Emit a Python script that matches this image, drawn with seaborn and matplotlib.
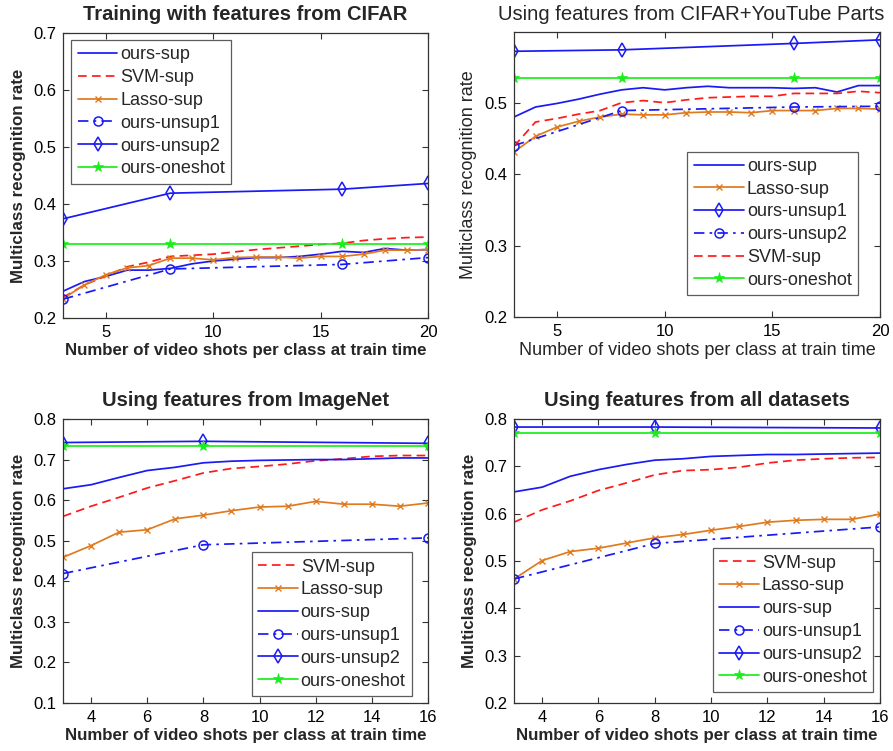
import matplotlib
matplotlib.use("Agg")
import matplotlib.pyplot as plt
import seaborn as sns
import pandas as pd

# ---------------- data ----------------
x_full_top = [3, 4, 5, 6, 7, 8, 9, 10, 11, 12, 13, 14, 15, 16, 17, 18, 19, 20]
x_sparse_top = [3, 8, 16, 20]
x_full_bot = [3, 4, 5, 6, 7, 8, 9, 10, 11, 12, 13, 14, 15, 16]
x_sparse_bot = [3, 8, 16]

# Panel 1: CIFAR
cifar_ours_sup = [0.247, 0.264, 0.273, 0.284, 0.284, 0.287, 0.295, 0.300, 0.303, 0.306,
                  0.306, 0.308, 0.312, 0.317, 0.315, 0.322, 0.319, 0.320]
cifar_svm = [0.236, 0.258, 0.274, 0.290, 0.298, 0.308, 0.310, 0.312, 0.316, 0.320,
             0.323, 0.326, 0.329, 0.331, 0.336, 0.339, 0.341, 0.342]
cifar_lasso = [0.234, 0.258, 0.276, 0.288, 0.292, 0.305, 0.305, 0.302, 0.306, 0.307,
               0.307, 0.305, 0.308, 0.308, 0.312, 0.319, 0.319, 0.320]
cifar_unsup1 = [0.233, 0.286, 0.294, 0.306]
cifar_unsup2 = [0.374, 0.419, 0.426, 0.436]
cifar_oneshot = [0.330, 0.330, 0.330, 0.330]

# Panel 2: CIFAR+YouTube Parts
yt_ours_sup = [0.480, 0.494, 0.499, 0.505, 0.512, 0.518, 0.521, 0.518, 0.521, 0.523,
               0.521, 0.521, 0.521, 0.520, 0.521, 0.515, 0.524, 0.524]
yt_lasso = [0.431, 0.453, 0.466, 0.474, 0.480, 0.484, 0.483, 0.483, 0.486, 0.487,
            0.487, 0.486, 0.489, 0.489, 0.489, 0.492, 0.492, 0.491]
yt_unsup1 = [0.572, 0.574, 0.583, 0.588]
yt_unsup2 = [0.440, 0.489, 0.494, 0.495]
yt_svm = [0.439, 0.473, 0.478, 0.484, 0.489, 0.500, 0.503, 0.500, 0.504, 0.507,
          0.508, 0.509, 0.509, 0.513, 0.513, 0.513, 0.516, 0.514]
yt_oneshot = [0.535, 0.535, 0.535, 0.535]

# Panel 3: ImageNet
in_svm = [0.560, 0.585, 0.607, 0.630, 0.648, 0.667, 0.678, 0.683, 0.689, 0.697,
          0.702, 0.708, 0.710, 0.710]
in_lasso = [0.459, 0.488, 0.521, 0.527, 0.554, 0.563, 0.574, 0.583, 0.585, 0.597,
            0.590, 0.590, 0.585, 0.593]
in_ours_sup = [0.628, 0.638, 0.656, 0.673, 0.681, 0.692, 0.696, 0.698, 0.699, 0.700,
               0.700, 0.702, 0.704, 0.704]
in_unsup1 = [0.419, 0.490, 0.507]
in_unsup2 = [0.742, 0.745, 0.740]
in_oneshot = [0.734, 0.734, 0.734]

# Panel 4: all datasets
all_svm = [0.582, 0.608, 0.627, 0.649, 0.665, 0.682, 0.691, 0.693, 0.698, 0.707,
           0.713, 0.716, 0.718, 0.719]
all_lasso = [0.462, 0.501, 0.520, 0.527, 0.538, 0.549, 0.556, 0.565, 0.573, 0.582,
             0.586, 0.588, 0.588, 0.599]
all_ours_sup = [0.646, 0.656, 0.679, 0.693, 0.704, 0.713, 0.716, 0.721, 0.723, 0.725,
                0.725, 0.726, 0.727, 0.728]
all_unsup1 = [0.462, 0.537, 0.572]
all_unsup2 = [0.783, 0.783, 0.781]
all_oneshot = [0.770, 0.770, 0.770]

titles = ["Training with features from CIFAR",
          "Using features from CIFAR+YouTube Parts",
          "Using features from ImageNet",
          "Using features from all datasets"]
xlabel = "Number of video shots per class at train time"
ylabel = "Multiclass recognition rate"

xticks_top = [5, 10, 15, 20]
xticks_bot = [4, 6, 8, 10, 12, 14, 16]
yticks_p1 = [0.2, 0.3, 0.4, 0.5, 0.6, 0.7]
yticks_p2 = [0.2, 0.3, 0.4, 0.5]
yticks_p3 = [0.1, 0.2, 0.3, 0.4, 0.5, 0.6, 0.7, 0.8]
yticks_p4 = [0.2, 0.3, 0.4, 0.5, 0.6, 0.7, 0.8]

# ---------------- style ----------------
sns.set_style("white")
plt.rcParams["font.family"] = ["Liberation Sans", "DejaVu Sans"]

BLUE = "#1a1af5"
RED = "#ff1a1a"
ORANGE = "#e07a1e"
GREEN = "#1aee1a"

DASH = (0, (5, 3))
DASHDOT = (0, (6, 3, 1.5, 3))

STYLE = {
    "sup": dict(color=BLUE, linestyle="-", marker=None),
    "svm": dict(color=RED, linestyle=DASH, marker=None),
    "lasso": dict(color=ORANGE, linestyle="-", marker="x", markersize=4,
                  markeredgewidth=1.0, markeredgecolor=ORANGE),
    "circ": dict(color=BLUE, linestyle=DASHDOT, marker="o", markersize=6.5,
                 markerfacecolor="none", markeredgecolor=BLUE, markeredgewidth=1.1),
    "diam": dict(color=BLUE, linestyle="-", marker="d", markersize=7,
                 markerfacecolor="none", markeredgecolor=BLUE, markeredgewidth=1.1),
    "star": dict(color=GREEN, linestyle="-", marker="*", markersize=8,
                 markerfacecolor=GREEN, markeredgecolor=GREEN, markeredgewidth=0.5),
}

fig = plt.figure(figsize=(8.93, 7.51), dpi=100)
W, H = 893.0, 751.0


def add_axes(l, t, r, b):
    return fig.add_axes([l / W, 1 - b / H, (r - l) / W, (b - t) / H])


panels = [
    dict(rect=(63, 33, 428, 318), bold=True, xt=xticks_top, yt=yticks_p1,
         xlim=(3, 20), ylim=(0.2, 0.7), hl=2.2,
         series=[("ours-sup", x_full_top, cifar_ours_sup, "sup"),
                 ("SVM-sup", x_full_top, cifar_svm, "svm"),
                 ("Lasso-sup", x_full_top, cifar_lasso, "lasso"),
                 ("ours-unsup1", x_sparse_top, cifar_unsup1, "circ"),
                 ("ours-unsup2", x_sparse_top, cifar_unsup2, "diam"),
                 ("ours-oneshot", x_sparse_top, cifar_oneshot, "star")],
         order=["ours-sup", "SVM-sup", "Lasso-sup", "ours-unsup1", "ours-unsup2", "ours-oneshot"],
         leg=dict(loc="upper left", bbox_to_anchor=(0.023, 0.975))),
    dict(rect=(514, 32, 880, 317), bold=False, xt=xticks_top, yt=yticks_p2,
         xlim=(3, 20), ylim=(0.2, 0.599), hl=2.8,
         series=[("ours-sup", x_full_top, yt_ours_sup, "sup"),
                 ("Lasso-sup", x_full_top, yt_lasso, "lasso"),
                 ("ours-unsup1", x_sparse_top, yt_unsup1, "diam"),
                 ("ours-unsup2", x_sparse_top, yt_unsup2, "circ"),
                 ("SVM-sup", x_full_top, yt_svm, "svm"),
                 ("ours-oneshot", x_sparse_top, yt_oneshot, "star")],
         order=["ours-sup", "Lasso-sup", "ours-unsup1", "ours-unsup2", "SVM-sup", "ours-oneshot"],
         leg=dict(loc="lower right", bbox_to_anchor=(0.94, 0.077))),
    dict(rect=(63, 419, 428, 703), bold=True, xt=xticks_bot, yt=yticks_p3,
         xlim=(3, 16), ylim=(0.1, 0.8), hl=2.2,
         series=[("SVM-sup", x_full_bot, in_svm, "svm"),
                 ("Lasso-sup", x_full_bot, in_lasso, "lasso"),
                 ("ours-sup", x_full_bot, in_ours_sup, "sup"),
                 ("ours-unsup1", x_sparse_bot, in_unsup1, "circ"),
                 ("ours-unsup2", x_sparse_bot, in_unsup2, "diam"),
                 ("ours-oneshot", x_sparse_bot, in_oneshot, "star")],
         order=["SVM-sup", "Lasso-sup", "ours-sup", "ours-unsup1", "ours-unsup2", "ours-oneshot"],
         leg=dict(loc="lower right", bbox_to_anchor=(0.956, 0.025))),
    dict(rect=(514, 419, 880, 703), bold=True, xt=xticks_bot, yt=yticks_p4,
         xlim=(3, 16), ylim=(0.2, 0.8), hl=2.2,
         series=[("SVM-sup", x_full_bot, all_svm, "svm"),
                 ("Lasso-sup", x_full_bot, all_lasso, "lasso"),
                 ("ours-sup", x_full_bot, all_ours_sup, "sup"),
                 ("ours-unsup1", x_sparse_bot, all_unsup1, "circ"),
                 ("ours-unsup2", x_sparse_bot, all_unsup2, "diam"),
                 ("ours-oneshot", x_sparse_bot, all_oneshot, "star")],
         order=["SVM-sup", "Lasso-sup", "ours-sup", "ours-unsup1", "ours-unsup2", "ours-oneshot"],
         leg=dict(loc="lower right", bbox_to_anchor=(0.981, 0.039))),
]

for i, p in enumerate(panels):
    ax = add_axes(*p["rect"])
    handles = {}
    for label, xs, ys, key in p["series"]:
        df = pd.DataFrame({"x": xs, "y": ys})
        kw = dict(STYLE[key])
        if kw.get("marker") is None:
            kw.pop("marker")
        n_before = len(ax.lines)
        sns.lineplot(data=df, x="x", y="y", ax=ax, errorbar=None, lw=1.25,
                     label=label, legend=False, **kw)
        handles[label] = ax.lines[n_before]
    ax.set_xlim(*p["xlim"])
    ax.set_ylim(*p["ylim"])
    ax.set_xticks(p["xt"])
    ax.set_xticklabels([str(v) for v in p["xt"]])
    ax.set_yticks(p["yt"])
    ax.set_yticklabels([f"{v:.1f}" for v in p["yt"]])
    ax.tick_params(direction="in", top=True, right=True, bottom=True, left=True,
                   length=4, width=0.8, labelsize=12, pad=5, colors="#333333",
                   labelcolor="black")
    for s in ax.spines.values():
        s.set_color("#333333")
        s.set_linewidth(0.9)
    if p["bold"]:
        ax.set_title(titles[i], fontsize=14.5, fontweight="bold", pad=9)
        ax.set_xlabel(xlabel, fontsize=12.2, fontweight="bold", labelpad=2)
        ax.set_ylabel(ylabel, fontsize=12.2, fontweight="bold", labelpad=5)
    else:
        t = ax.set_title(titles[i], fontsize=14.6, fontweight="normal", pad=9, loc="left")
        t.set_x(-0.044)
        ax.set_xlabel(xlabel, fontsize=13, fontweight="normal", labelpad=2)
        ax.set_ylabel(ylabel, fontsize=13, fontweight="normal", labelpad=5)
    leg = ax.legend([handles[k] for k in p["order"]], p["order"], fontsize=13,
                    frameon=True, fancybox=False, edgecolor="#333333",
                    borderaxespad=0, handlelength=p["hl"], handletextpad=0.15,
                    labelspacing=0.32, borderpad=0.35, **p["leg"])
    leg.get_frame().set_linewidth(0.9)

fig.savefig("out.png", dpi=100)
